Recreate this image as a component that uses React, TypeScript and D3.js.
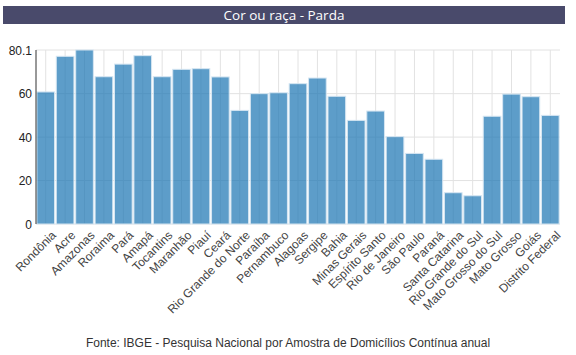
import React from "react";
import * as d3 from "d3";

const categories = [
  "Rondônia", "Acre", "Amazonas", "Roraima", "Pará", "Amapá", "Tocantins",
  "Maranhão", "Piauí", "Ceará", "Rio Grande do Norte", "Paraíba", "Pernambuco",
  "Alagoas", "Sergipe", "Bahia", "Minas Gerais", "Espírito Santo",
  "Rio de Janeiro", "São Paulo", "Paraná", "Santa Catarina",
  "Rio Grande do Sul", "Mato Grosso do Sul", "Mato Grosso", "Goiás",
  "Distrito Federal",
];
const values = [
  60.8, 77.2, 80.1, 67.8, 73.6, 77.5, 67.8, 71.2, 71.5, 67.7, 52.3, 60.0,
  60.4, 64.6, 67.2, 58.8, 47.7, 52.0, 40.2, 32.5, 29.8, 14.4, 13.0, 49.6,
  59.8, 58.6, 50.0,
];
const yTicks = [0, 20, 40, 60, 80.1];
const title = "Cor ou raça - Parda";
const source = "Fonte: IBGE - Pesquisa Nacional por Amostra de Domicílios Contínua anual";

const W = 576;
const H = 355;
const left = 36;
const right = 560;
const top = 50;
const bottom = 224;

export default function App() {
  const x = d3.scaleBand<string>().domain(categories).range([left, right]).paddingInner(0.09).paddingOuter(0.045);
  const y = d3.scaleLinear().domain([0, 80.1]).range([bottom, top]);
  const font = "'Liberation Sans', Arial, sans-serif";
  return (
    <svg width={W} height={H} style={{ position: "absolute", left: 0, top: 0, background: "#fff" }}>
      <rect x={3} y={6} width={562} height={18} fill="#494a6b" />
      <text x={284} y={19.5} textAnchor="middle" fill="#fff" fontFamily="'Open Sans', sans-serif" fontSize={13.5}>
        {title}
      </text>
      <g>
        {yTicks.map((t) => (
          <line key={"h" + t} x1={left} x2={right} y1={y(t)} y2={y(t)} stroke="#e2e2e2" />
        ))}
        {categories.map((c) => (
          <line key={"v" + c} x1={x(c)! + x.bandwidth() / 2} x2={x(c)! + x.bandwidth() / 2} y1={top} y2={bottom} stroke="#e2e2e2" />
        ))}
      </g>
      <g>
        {categories.map((c, i) => (
          <rect
            key={c}
            x={x(c)!}
            y={y(values[i])}
            width={x.bandwidth()}
            height={bottom - y(values[i])}
            fill="#1f77b4"
            fillOpacity={0.72}
            stroke="#d6e6f2"
            strokeWidth={1}
          />
        ))}
      </g>
      <line x1={left} x2={left} y1={top} y2={bottom} stroke="#333" />
      {yTicks.map((t) => (
        <text key={"yt" + t} x={left - 4} y={y(t) + 4.5} textAnchor="end" fontFamily={font} fontSize={12} fill="#222">
          {t}
        </text>
      ))}
      {categories.map((c) => {
        const cx = x(c)! + x.bandwidth() / 2;
        return (
          <text
            key={"xl" + c}
            transform={`translate(${cx + 11},${236}) rotate(-45)`}
            textAnchor="end"
            fontFamily={font}
            fontSize={12}
            fill="#444"
          >
            {c}
          </text>
        );
      })}
      <text x={288} y={347} textAnchor="middle" fontFamily={font} fontSize={12} fill="#333">
        {source}
      </text>
    </svg>
  );
}
